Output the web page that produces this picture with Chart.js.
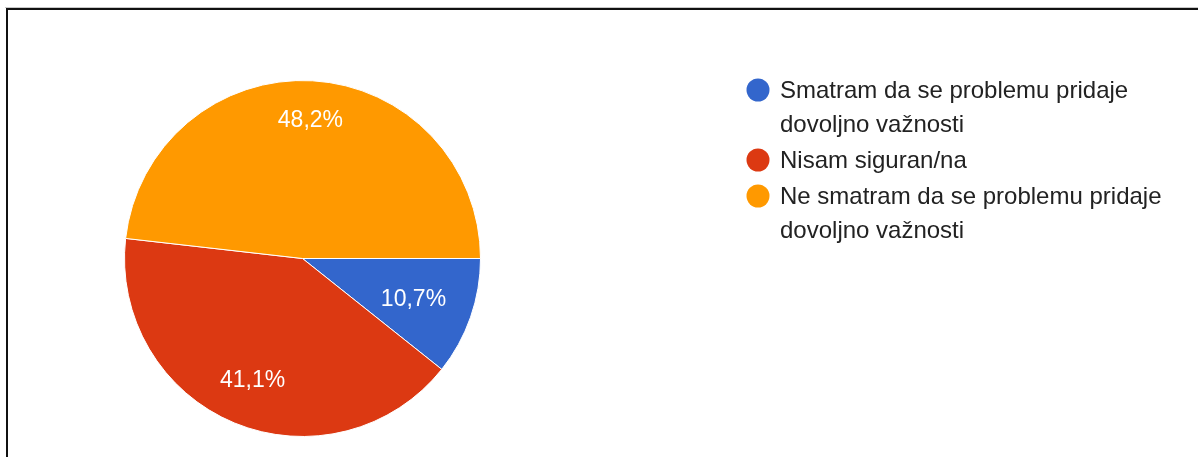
<!DOCTYPE html>
<html>
<head>
<meta charset="utf-8">
<script src="https://cdn.jsdelivr.net/npm/chart.js@4/dist/chart.umd.min.js"></script>
<style>
  html, body { margin: 0; padding: 0; background: #fff; }
  #wrap { position: relative; width: 1198px; height: 457px; overflow: hidden; }
  #c { position: absolute; left: 0; top: 0; }
  #frameGray { position: absolute; left: 5px; top: 7px; width: 1193px; height: 1px; background: #c8c8c8; }
  #frame { position: absolute; left: 6px; top: 8px; width: 1192px; height: 449px;
           border-top: 2px solid #111; border-left: 2px solid #111; box-sizing: border-box; }
</style>
</head>
<body>
<div id="wrap">
  <canvas id="c" width="1198" height="457"></canvas>
  <div id="frameGray"></div>
  <div id="frame"></div>
</div>
<script>
// ---- data ----
const categories = [
  "Smatram da se problemu pridaje dovoljno važnosti",
  "Nisam siguran/na",
  "Ne smatram da se problemu pridaje dovoljno važnosti"
];
const percentages = [10.7, 41.1, 48.2];
const sliceColors = ["#3366cc", "#dc3912", "#ff9900"];

const FONT = 'Arial, "Liberation Sans", sans-serif';

function fmt(v) { return v.toFixed(1).replace('.', ',') + '%'; }

function wrapText(ctx, text, maxW) {
  const words = text.split(' ');
  const lines = [];
  let cur = '';
  for (const w of words) {
    const t = cur ? cur + ' ' + w : w;
    if (ctx.measureText(t).width > maxW && cur) { lines.push(cur); cur = w; }
    else cur = t;
  }
  if (cur) lines.push(cur);
  return lines;
}

const labelPlugin = {
  id: 'sliceLabels',
  afterDatasetsDraw(chart) {
    const ctx = chart.ctx;
    const meta = chart.getDatasetMeta(0);
    ctx.save();
    ctx.font = '23px ' + FONT;
    ctx.fillStyle = '#ffffff';
    ctx.textAlign = 'center';
    ctx.textBaseline = 'middle';
    meta.data.forEach((arc, i) => {
      const p = arc.getProps(['x', 'y', 'startAngle', 'endAngle', 'outerRadius'], true);
      const mid = (p.startAngle + p.endAngle) / 2;
      const txt = fmt(percentages[i]);
      const hw = ctx.measureText(txt).width / 2;
      const hh = 9;
      const proj = hw * Math.abs(Math.cos(mid)) + hh * Math.abs(Math.sin(mid));
      const d = p.outerRadius * 0.85 - proj;
      ctx.fillText(txt, p.x + d * Math.cos(mid), p.y + d * Math.sin(mid) + 2);
    });
    ctx.restore();
  }
};

const legendPlugin = {
  id: 'sideLegend',
  afterDraw(chart) {
    const ctx = chart.ctx;
    ctx.save();
    ctx.font = '24px ' + FONT;
    ctx.textBaseline = 'alphabetic';
    ctx.textAlign = 'left';
    const circleX = 758, textX = 780, lineH = 34, itemGap = 2;
    let baseline = 98;
    categories.forEach((cat, i) => {
      const lines = wrapText(ctx, cat, 400);
      ctx.beginPath();
      ctx.fillStyle = sliceColors[i];
      ctx.arc(circleX, baseline - 8, 11.5, 0, Math.PI * 2);
      ctx.fill();
      ctx.fillStyle = '#222222';
      lines.forEach((ln, k) => {
        ctx.fillText(ln, textX, baseline + k * lineH);
      });
      baseline += lines.length * lineH + itemGap;
    });
    ctx.restore();
  }
};

new Chart(document.getElementById('c'), {
  type: 'pie',
  data: {
    labels: categories,
    datasets: [{
      data: percentages,
      backgroundColor: sliceColors,
      borderColor: '#ffffff',
      borderWidth: 1
    }]
  },
  options: {
    responsive: false,
    animation: false,
    devicePixelRatio: 1,
    rotation: 90,
    layout: { padding: { left: 124, top: 80, right: 717, bottom: 20 } },
    plugins: {
      legend: { display: false },
      tooltip: { enabled: false }
    }
  },
  plugins: [labelPlugin, legendPlugin]
});
</script>
</body>
</html>
